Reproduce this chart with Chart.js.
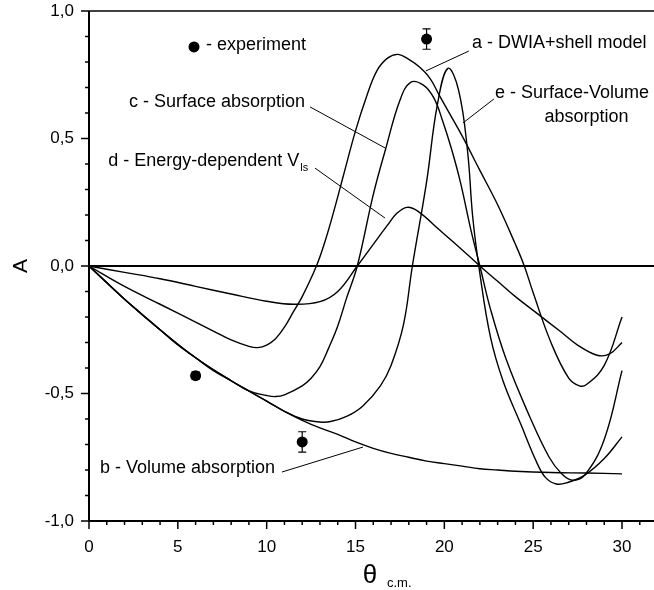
<!DOCTYPE html>
<html><head><meta charset="utf-8">
<script src="https://cdn.jsdelivr.net/npm/chart.js@4"></script>
<style>html,body{margin:0;padding:0;background:#fff;overflow:hidden}</style>
</head><body>
<canvas id="c" width="654" height="590"></canvas>
<script>
// ---- data (theta in degrees c.m., A = analysing power) ----
const thetaA = [0, 2, 4, 6, 7, 8, 9, 9.5, 10, 10.5, 11, 11.5, 12, 12.8, 13.3, 13.8, 14.3, 15, 15.6, 16.2, 16.8, 17.4, 18, 18.6, 19.2, 19.75, 20.4, 21, 22, 23, 24, 24.5, 25, 26, 27, 27.6, 28, 29, 30];
const asymA  = [0, -0.08, -0.15, -0.22, -0.255, -0.29, -0.315, -0.32, -0.31, -0.285, -0.24, -0.18, -0.12, 0, 0.1, 0.22, 0.35, 0.53, 0.66, 0.765, 0.815, 0.83, 0.81, 0.78, 0.735, 0.665, 0.585, 0.51, 0.375, 0.24, 0.085, 0, -0.105, -0.3, -0.44, -0.47, -0.465, -0.39, -0.2];

const thetaB = [0, 1, 2, 3, 4, 5, 6, 7, 8, 9, 10, 11, 12, 13, 14, 15, 16, 17, 18, 19, 20, 21, 22, 23, 24, 26, 28, 30];
const asymB  = [0, -0.065, -0.13, -0.19, -0.25, -0.31, -0.36, -0.41, -0.45, -0.49, -0.53, -0.57, -0.605, -0.635, -0.66, -0.69, -0.715, -0.735, -0.75, -0.765, -0.775, -0.785, -0.795, -0.8, -0.805, -0.81, -0.812, -0.815];

const thetaC = [0, 2, 4, 6, 8, 9, 10, 10.5, 11, 12, 12.5, 13, 13.5, 14, 14.5, 15.1, 16, 16.7, 17.5, 18.1, 18.8, 19.4, 19.9, 20.4, 20.9, 21.5, 22, 22.6, 23.5, 24.8, 25.9, 26.6, 27.2, 27.9, 29, 30];
const asymC  = [0, -0.13, -0.25, -0.36, -0.45, -0.49, -0.508, -0.512, -0.505, -0.47, -0.44, -0.395, -0.32, -0.235, -0.125, 0, 0.28, 0.46, 0.65, 0.72, 0.71, 0.66, 0.57, 0.46, 0.33, 0.14, 0, -0.17, -0.37, -0.59, -0.75, -0.815, -0.84, -0.82, -0.68, -0.41];

const thetaD = [0, 2, 4, 6, 8, 10, 11.5, 13, 14, 15.1, 16, 16.8, 17.3, 17.9, 18.5, 19.75, 20.9, 22, 23, 24, 25.2, 26.5, 27.5, 28.6, 29.3, 30];
const asymD  = [0, -0.025, -0.05, -0.08, -0.11, -0.138, -0.15, -0.14, -0.1, 0, 0.085, 0.16, 0.205, 0.23, 0.215, 0.14, 0.07, 0, -0.06, -0.12, -0.185, -0.255, -0.31, -0.35, -0.345, -0.3];

const thetaE = [0, 2, 4, 6, 8, 10, 11, 12, 13, 13.6, 14.5, 15.4, 16.4, 17, 17.7, 18.2, 19, 19.6, 20.2, 20.8, 21.3, 21.6, 22, 22.6, 23.3, 24.3, 25.2, 25.7, 26.3, 26.9, 27.9, 29, 30];
const asymE  = [0, -0.13, -0.25, -0.36, -0.45, -0.53, -0.57, -0.6, -0.612, -0.61, -0.59, -0.55, -0.47, -0.39, -0.23, 0, 0.33, 0.63, 0.775, 0.69, 0.455, 0.19, -0.03, -0.28, -0.45, -0.62, -0.77, -0.83, -0.855, -0.85, -0.82, -0.755, -0.67];

const thetaExp = [6, 12, 19];
const asymExp  = [-0.43, -0.69, 0.89];
const errExp   = [0.015, 0.04, 0.04];

const xMajorTicks = [0, 5, 10, 15, 20, 25, 30];
const yMajorTicks = [-1, -0.5, 0, 0.5, 1];

// ---- helpers ----
const FONT = '"Liberation Sans", Arial, sans-serif';
function pts(xs, ys){ return xs.map((x, i) => ({x: x, y: ys[i]})); }
function curve(label, xs, ys){
  return {label, data: pts(xs, ys), showLine: true, borderColor: '#000', borderWidth: 1.4,
          pointRadius: 0, tension: 0.4, fill: false};
}

// annotation labels (anchors in data coordinates)
const notes = [
  {text: 'a - DWIA+shell model', x: 21.55, y: 0.875, align: 'left', line: [21.38, 0.843, 18.96, 0.765]},
  {text: 'c - Surface absorption', x: 12.16, y: 0.643, align: 'right', line: [12.44, 0.624, 16.66, 0.463]},
  {text: 'd - Energy-dependent V', sub: 'ls', x: 12.0, y: 0.41, align: 'right', line: [12.72, 0.384, 16.66, 0.188]},
  {text: 'e - Surface-Volume', x: 22.85, y: 0.678, align: 'left', line: [22.79, 0.655, 21.05, 0.561]},
  {text: 'absorption', x: 28.0, y: 0.584, align: 'center'},
  {text: 'b - Volume absorption', x: 0.62, y: -0.792, align: 'left', line: [10.86, -0.808, 15.42, -0.71]},
  {text: '- experiment', x: 6.58, y: 0.865, align: 'left', marker: [5.91, 0.859]}
];

const decor = {
  id: 'decor',
  beforeDatasetsDraw(chart){
    const {ctx, chartArea: ca, scales: {x, y}} = chart;
    ctx.save();
    ctx.strokeStyle = '#000';
    ctx.lineWidth = 2;
    const y0 = y.getPixelForValue(0);
    ctx.beginPath(); ctx.moveTo(ca.left, y0); ctx.lineTo(ca.right, y0); ctx.stroke();
    ctx.lineWidth = 1.5;
    ctx.beginPath(); ctx.moveTo(ca.left, ca.top); ctx.lineTo(ca.right, ca.top); ctx.stroke();
    ctx.restore();
  },
  afterDraw(chart){
    const {ctx, chartArea: ca, scales: {x, y}} = chart;
    ctx.save();
    ctx.strokeStyle = '#000'; ctx.fillStyle = '#000';
    // axes
    ctx.lineWidth = 2;
    ctx.beginPath(); ctx.moveTo(ca.left, ca.top); ctx.lineTo(ca.left, ca.bottom); ctx.lineTo(ca.right, ca.bottom); ctx.stroke();
    // ticks
    ctx.lineWidth = 1.5;
    for (let v = 0; v <= 31; v++){
      const px = x.getPixelForValue(v);
      const len = v % 5 === 0 ? 8 : 4;
      ctx.beginPath(); ctx.moveTo(px, ca.bottom); ctx.lineTo(px, ca.bottom + len); ctx.stroke();
    }
    for (let k = -10; k <= 10; k++){
      const py = y.getPixelForValue(k / 10);
      const len = k % 5 === 0 ? 8 : 4;
      ctx.beginPath(); ctx.moveTo(ca.left, py); ctx.lineTo(ca.left - len, py); ctx.stroke();
    }
    // error bars
    ctx.lineWidth = 1.2;
    thetaExp.forEach((t, i) => {
      const px = x.getPixelForValue(t);
      const pTop = y.getPixelForValue(asymExp[i] + errExp[i]);
      const pBot = y.getPixelForValue(asymExp[i] - errExp[i]);
      ctx.beginPath();
      ctx.moveTo(px, pTop); ctx.lineTo(px, pBot);
      ctx.moveTo(px - 4, pTop); ctx.lineTo(px + 4, pTop);
      ctx.moveTo(px - 4, pBot); ctx.lineTo(px + 4, pBot);
      ctx.stroke();
    });
    // annotations
    ctx.font = '18px ' + FONT;
    ctx.textBaseline = 'middle';
    ctx.lineWidth = 1;
    notes.forEach(n => {
      const px = x.getPixelForValue(n.x), py = y.getPixelForValue(n.y);
      ctx.textAlign = n.align;
      let tx = px;
      if (n.sub){
        ctx.font = '11px ' + FONT;
        const sw = ctx.measureText(n.sub).width;
        ctx.textAlign = 'left';
        ctx.fillText(n.sub, px - sw + 6, py + 7);
        ctx.font = '18px ' + FONT;
        ctx.textAlign = 'right';
        tx = px - sw + 5;
      }
      ctx.fillText(n.text, tx, py);
      if (n.line){
        ctx.beginPath();
        ctx.moveTo(x.getPixelForValue(n.line[0]), y.getPixelForValue(n.line[1]));
        ctx.lineTo(x.getPixelForValue(n.line[2]), y.getPixelForValue(n.line[3]));
        ctx.stroke();
      }
      if (n.marker){
        ctx.beginPath();
        ctx.arc(x.getPixelForValue(n.marker[0]), y.getPixelForValue(n.marker[1]), 5.5, 0, Math.PI * 2);
        ctx.fill();
      }
    });
    // axis titles
    ctx.textAlign = 'center';
    ctx.font = '21px ' + FONT;
    ctx.save();
    ctx.translate(21, y.getPixelForValue(0));
    ctx.rotate(-Math.PI / 2);
    ctx.fillText('A', 0, 0);
    ctx.restore();
    ctx.font = '26px ' + FONT;
    ctx.textAlign = 'center';
    ctx.fillText('\u03B8', 370, ca.bottom + 55);
    ctx.font = '13px ' + FONT;
    ctx.textAlign = 'left';
    ctx.fillText('c.m.', 387, ca.bottom + 62);
    ctx.restore();
  }
};

function noPad(s){ s.paddingTop = 0; s.paddingBottom = 0; s.paddingLeft = 0; s.paddingRight = 0; }

new Chart(document.getElementById('c'), {
  type: 'scatter',
  data: {
    datasets: [
      curve('a', thetaA, asymA),
      curve('b', thetaB, asymB),
      curve('c', thetaC, asymC),
      curve('d', thetaD, asymD),
      curve('e', thetaE, asymE),
      {label: 'experiment', data: pts(thetaExp, asymExp), showLine: false,
       pointRadius: 5.5, pointBackgroundColor: '#000', pointBorderColor: '#000', pointBorderWidth: 0}
    ]
  },
  options: {
    responsive: false,
    animation: false,
    layout: {autoPadding: false, padding: {top: 11, right: 0, left: 0, bottom: 0}},
    plugins: {legend: {display: false}, tooltip: {enabled: false}},
    scales: {
      x: {
        type: 'linear', min: 0, max: 31.8,
        afterBuildTicks: s => { s.ticks = xMajorTicks.map(v => ({value: v})); },
        afterFit: s => { s.height = 69; noPad(s); },
        grid: {display: false, drawTicks: false},
        border: {display: false},
        ticks: {color: '#000', font: {family: FONT, size: 17}, padding: 16, maxRotation: 0,
                callback: v => String(v)}
      },
      y: {
        type: 'linear', min: -1, max: 1,
        afterBuildTicks: s => { s.ticks = yMajorTicks.map(v => ({value: v})); },
        afterFit: s => { s.width = 89; noPad(s); },
        grid: {display: false, drawTicks: false},
        border: {display: false},
        ticks: {color: '#000', font: {family: FONT, size: 17}, padding: 15,
                callback: v => v.toFixed(1).replace('.', ',')}
      }
    }
  },
  plugins: [decor]
});
</script>
</body></html>
